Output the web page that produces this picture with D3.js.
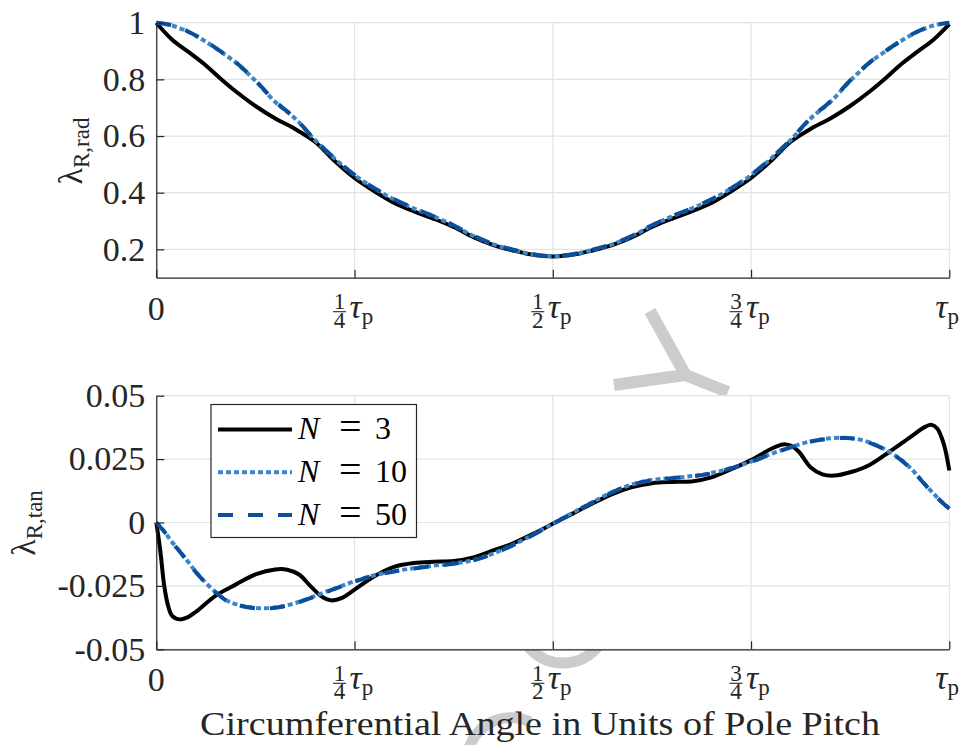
<!DOCTYPE html>
<html>
<head>
<meta charset="utf-8">
<script src="https://cdn.jsdelivr.net/npm/d3@7"></script>
<style>
  body { margin: 0; background: #fff; }
  svg { display: block; font-family: "Liberation Serif", "DejaVu Serif", serif; }
</style>
</head>
<body>
<svg id="chart" width="963" height="745"></svg>
<script>
// angle positions (fraction of the pole pitch)
var radAngle = [0, 0.02, 0.04, 0.06, 0.08, 0.10, 0.125, 0.15, 0.175, 0.20, 0.225, 0.25, 0.275, 0.30, 0.325, 0.35, 0.375, 0.40, 0.425, 0.45, 0.475, 0.5,
  0.525, 0.55, 0.575, 0.60, 0.625, 0.65, 0.675, 0.70, 0.725, 0.75, 0.775, 0.80, 0.825, 0.85, 0.875, 0.90, 0.92, 0.94, 0.96, 0.98, 1.0];
var radN3 = [1.0, 0.94, 0.898, 0.855, 0.805, 0.758, 0.706, 0.662, 0.625, 0.58, 0.512, 0.452, 0.405, 0.364, 0.334, 0.308, 0.279, 0.243, 0.215, 0.196, 0.181, 0.175,
  0.181, 0.196, 0.215, 0.243, 0.279, 0.308, 0.334, 0.364, 0.405, 0.452, 0.512, 0.58, 0.625, 0.662, 0.706, 0.758, 0.805, 0.855, 0.898, 0.94, 0.995];
var radN10 = [1.0, 0.99, 0.968, 0.937, 0.9, 0.86, 0.795, 0.72, 0.662, 0.586, 0.52, 0.462, 0.415, 0.376, 0.344, 0.316, 0.284, 0.247, 0.218, 0.198, 0.182, 0.176,
  0.182, 0.198, 0.218, 0.247, 0.284, 0.316, 0.344, 0.376, 0.415, 0.462, 0.52, 0.586, 0.662, 0.72, 0.795, 0.86, 0.9, 0.937, 0.968, 0.99, 1.0];
var radN50 = [1.0, 0.991, 0.969, 0.938, 0.901, 0.861, 0.796, 0.722, 0.663, 0.587, 0.521, 0.463, 0.416, 0.377, 0.345, 0.317, 0.285, 0.248, 0.219, 0.199, 0.183, 0.176,
  0.183, 0.199, 0.219, 0.248, 0.285, 0.317, 0.345, 0.377, 0.416, 0.463, 0.521, 0.587, 0.663, 0.722, 0.796, 0.861, 0.901, 0.938, 0.969, 0.991, 1.0];

var tanAngleN3 = [0, 0.005, 0.01, 0.015, 0.02, 0.03, 0.04, 0.05, 0.075, 0.10, 0.125, 0.15, 0.165, 0.18, 0.195, 0.21, 0.22, 0.235, 0.25, 0.275, 0.30, 0.325, 0.35, 0.375,
  0.40, 0.425, 0.45, 0.475, 0.5, 0.525, 0.55, 0.575, 0.60, 0.625, 0.65, 0.675, 0.70, 0.725, 0.75, 0.775, 0.79, 0.80, 0.81, 0.825, 0.84, 0.855, 0.875, 0.90,
  0.925, 0.95, 0.97, 0.978, 0.985, 0.993, 1.0];
var tanN3 = [0, -0.011, -0.025, -0.033, -0.0368, -0.0382, -0.0373, -0.0352, -0.0288, -0.0245, -0.0205, -0.0185, -0.0186, -0.0205, -0.0253, -0.0295, -0.0307, -0.0296, -0.0265, -0.0212, -0.0175, -0.016, -0.0155, -0.0152,
  -0.0138, -0.011, -0.0082, -0.0045, -0.0005, 0.0035, 0.0075, 0.0112, 0.014, 0.0155, 0.016, 0.0162, 0.0178, 0.021, 0.0246, 0.029, 0.0308, 0.0303, 0.028, 0.0218, 0.019, 0.0185, 0.0198, 0.0228,
  0.028, 0.0335, 0.0378, 0.0385, 0.037, 0.031, 0.0205];
var tanAngle = [0, 0.01, 0.02, 0.03, 0.04, 0.05, 0.06, 0.075, 0.09, 0.10, 0.115, 0.13, 0.145, 0.16, 0.175, 0.19, 0.21, 0.23, 0.25, 0.275, 0.30, 0.325, 0.35, 0.375,
  0.40, 0.425, 0.45, 0.475, 0.5, 0.525, 0.55, 0.575, 0.60, 0.625, 0.65, 0.675, 0.70, 0.725, 0.75, 0.775, 0.80, 0.825, 0.85, 0.87, 0.89, 0.91, 0.93, 0.95, 0.97, 0.985, 1.0];
var tanN10 = [0, -0.0035, -0.0078, -0.0115, -0.0155, -0.0195, -0.023, -0.0275, -0.031, -0.0322, -0.0333, -0.0338, -0.0337, -0.033, -0.0318, -0.0302, -0.0278, -0.0255, -0.0232, -0.0208, -0.0192, -0.018, -0.017, -0.0162,
  -0.0148, -0.0122, -0.0088, -0.0048, -0.0005, 0.0038, 0.008, 0.012, 0.015, 0.0168, 0.0175, 0.0183, 0.0195, 0.0215, 0.024, 0.027, 0.0297, 0.032, 0.0332, 0.0334, 0.0325, 0.0302, 0.0268, 0.0218, 0.0148, 0.0098, 0.0055];
var tanN50 = [0, -0.0036, -0.0079, -0.0116, -0.0156, -0.0196, -0.0231, -0.0276, -0.0311, -0.0323, -0.0334, -0.0339, -0.0338, -0.0331, -0.0319, -0.0303, -0.0279, -0.0256, -0.0233, -0.0209, -0.0193, -0.0181, -0.0171, -0.0163,
  -0.0149, -0.0123, -0.0089, -0.0049, -0.0006, 0.0037, 0.0079, 0.0119, 0.0149, 0.0167, 0.0175, 0.0182, 0.0194, 0.0214, 0.0239, 0.0269, 0.0296, 0.0319, 0.0331, 0.0333, 0.0324, 0.0301, 0.0267, 0.0217, 0.0147, 0.0097, 0.0054];

var angleTicks = [0, 0.25, 0.5, 0.75, 1];
var angleTickNum = [null, '1', '1', '3', null];
var angleTickDen = [null, '4', '2', '4', null];
var radTicks = [0.2, 0.4, 0.6, 0.8, 1];
var tanTicks = [-0.05, -0.025, 0, 0.025, 0.05];
var tanTickLabels = ['-0.05', '-0.025', '0', '0.025', '0.05'];
var legendLabels = ['3', '10', '50'];

var svg = d3.select('#chart');
var serif = '"Liberation Serif", "DejaVu Serif", serif';
var axisColor = '#262626', gridColor = '#e3e3e3';
var colN3 = '#000000', colN10 = '#3d85c6', colN50 = '#0b4f9c';

// faint watermark behind the axes
var wm = svg.append('g').attr('fill', 'none').attr('stroke', '#cccccc').attr('stroke-width', 12);
wm.append('path').attr('d', 'M650,311 L685,374 M614,385 L685,375 L728,392');
wm.append('circle').attr('cx', 563).attr('cy', 618).attr('r', 45).attr('stroke-width', 11);
wm.append('path').attr('d', 'M468,752 A44,44 0 0 1 530,722').attr('stroke-width', 11);

var x = d3.scaleLinear().domain([0, 1]).range([156.3, 949.3]);

function panel(yDomain, yRange, yTicks, yFmt) {
  var y = d3.scaleLinear().domain(yDomain).range(yRange);
  var g = svg.append('g');
  g.append('rect').attr('x', x.range()[0]).attr('y', yRange[1])
    .attr('width', x.range()[1] - x.range()[0]).attr('height', yRange[0] - yRange[1])
    .attr('fill', '#fff');
  // grid
  g.append('g').selectAll('line').data(yTicks).enter().append('line')
    .attr('x1', x.range()[0]).attr('x2', x.range()[1])
    .attr('y1', function(d) { return y(d); }).attr('y2', function(d) { return y(d); })
    .attr('stroke', gridColor).attr('stroke-width', 1.2);
  g.append('g').selectAll('line').data(angleTicks).enter().append('line')
    .attr('x1', function(d) { return x(d); }).attr('x2', function(d) { return x(d); })
    .attr('y1', yRange[0]).attr('y2', yRange[1])
    .attr('stroke', gridColor).attr('stroke-width', 1.2);
  return { y: y, g: g, yTicks: yTicks, yFmt: yFmt, yRange: yRange };
}

function axes(p) {
  var yAx = p.g.append('g').attr('transform', 'translate(' + x.range()[0] + ',0)')
    .call(d3.axisLeft(p.y).tickValues(p.yTicks).tickFormat(p.yFmt).tickSizeInner(-8).tickSizeOuter(0).tickPadding(11));
  yAx.attr('font-family', serif).attr('font-size', 34);
  yAx.select('.domain').attr('stroke', axisColor).attr('stroke-width', 1.2);
  yAx.selectAll('.tick line').attr('stroke', axisColor).attr('stroke-width', 1.2);
  yAx.selectAll('.tick text').style('font-family', serif).attr('font-size', 34)
    .attr('fill', '#262626').attr('dy', '0.32em');

  var xAx = p.g.append('g').attr('transform', 'translate(0,' + p.yRange[0] + ')')
    .call(d3.axisBottom(x).tickValues(angleTicks).tickFormat('').tickSizeInner(-8).tickSizeOuter(0));
  xAx.select('.domain').attr('stroke', axisColor).attr('stroke-width', 1.2);
  xAx.selectAll('.tick line').attr('stroke', axisColor).attr('stroke-width', 1.2);

  // custom fraction labels: one text element per tick
  var base = p.yRange[0] + 40;
  angleTicks.forEach(function(t, i) {
    var cx = x(t);
    var lg = p.g.append('g').attr('fill', '#262626').style('font-family', serif);
    if (t === 0) {
      lg.append('text').attr('x', cx).attr('y', base + 2).attr('text-anchor', 'middle').attr('font-size', 34).text('0');
      return;
    }
    var txt = lg.append('text').attr('font-size', 34);
    var tx = cx - 14;
    if (angleTickNum[i]) {
      tx = cx - 5;
      lg.append('line').attr('x1', cx - 21.5).attr('x2', cx - 8.5).attr('y1', base - 6).attr('y2', base - 6)
        .attr('stroke', '#262626').attr('stroke-width', 1.1);
      txt.append('tspan').attr('x', cx - 15).attr('y', base - 8.5).attr('text-anchor', 'middle').attr('font-size', 23).text(angleTickNum[i]);
      txt.append('tspan').attr('x', cx - 15).attr('y', base + 10).attr('text-anchor', 'middle').attr('font-size', 23).text(angleTickDen[i]);
    }
    txt.append('tspan').attr('x', tx).attr('y', base).attr('font-style', 'italic').text('τ');
    txt.append('tspan').attr('font-size', 23).attr('y', base + 6).text('p');
  });
}

function drawLines(p, series) {
  series.forEach(function(s) {
    var line = d3.line()
      .x(function(d, i) { return x(s.xs[i]); })
      .y(function(d) { return p.y(d); })
      .curve(d3.curveCatmullRom.alpha(0.5));
    p.g.append('path').datum(s.ys).attr('d', line)
      .attr('fill', 'none').attr('stroke', s.color).attr('stroke-width', s.width)
      .attr('stroke-dasharray', s.dash).attr('stroke-linejoin', 'round');
  });
}

// top panel: radial
var radPanel = panel([0.1, 1], [277.7, 22.7], radTicks, function(d) { return d === 1 ? '1' : d3.format('.1f')(d); });
drawLines(radPanel, [
  { xs: radAngle, ys: radN3, color: colN3, width: 4, dash: null },
  { xs: radAngle, ys: radN10, color: colN10, width: 4, dash: '5,3' },
  { xs: radAngle, ys: radN50, color: colN50, width: 4, dash: '15,15' }
]);
axes(radPanel);

// bottom panel: tangential
var tanPanel = panel([-0.05, 0.05], [649.3, 395.7], tanTicks, function(d, i) { return tanTickLabels[i]; });
drawLines(tanPanel, [
  { xs: tanAngleN3, ys: tanN3, color: colN3, width: 4, dash: null },
  { xs: tanAngle, ys: tanN10, color: colN10, width: 4, dash: '5,3' },
  { xs: tanAngle, ys: tanN50, color: colN50, width: 4, dash: '15,15' }
]);
axes(tanPanel);

// y labels
function yLabel(cx, cy, sub) {
  var t = svg.append('text').attr('transform', 'translate(' + cx + ',' + cy + ') rotate(-90)')
    .attr('text-anchor', 'middle').attr('font-size', 34).attr('fill', '#262626');
  t.append('tspan').text('λ');
  t.append('tspan').attr('font-size', 23).attr('dy', 7).text(sub);
}
yLabel(82, 151, 'R,rad');
yLabel(35, 523, 'R,tan');

// x label
svg.append('text').attr('x', 540).attr('y', 735).attr('text-anchor', 'middle')
  .attr('font-size', 33).attr('fill', '#262626')
  .attr('textLength', 680).attr('lengthAdjust', 'spacingAndGlyphs')
  .text('Circumferential Angle in Units of Pole Pitch');

// legend
var leg = svg.append('g');
leg.append('rect').attr('x', 211).attr('y', 404.5).attr('width', 205.5).attr('height', 133)
  .attr('fill', '#fff').attr('stroke', axisColor).attr('stroke-width', 1.2);
var legStyles = [
  { color: colN3, dash: null },
  { color: colN10, dash: '5,3' },
  { color: colN50, dash: '15,15' }
];
var legY = d3.scalePoint().domain(legendLabels).range([429.5, 515]);
legendLabels.forEach(function(lab, i) {
  var ly = legY(lab);
  leg.append('line').attr('x1', 218).attr('x2', 292).attr('y1', ly).attr('y2', ly)
    .attr('stroke', legStyles[i].color).attr('stroke-width', 4).attr('stroke-dasharray', legStyles[i].dash);
  var t = leg.append('text').attr('y', ly + 9.5).attr('font-size', 32).attr('fill', '#000');
  t.append('tspan').attr('x', 298).attr('font-style', 'italic').text('N');
  t.append('tspan').attr('x', 339).attr('font-size', 40).attr('dy', 1).text('=');
  t.append('tspan').attr('x', 375).attr('dy', -1).text(lab);
});
</script>
</body>
</html>
